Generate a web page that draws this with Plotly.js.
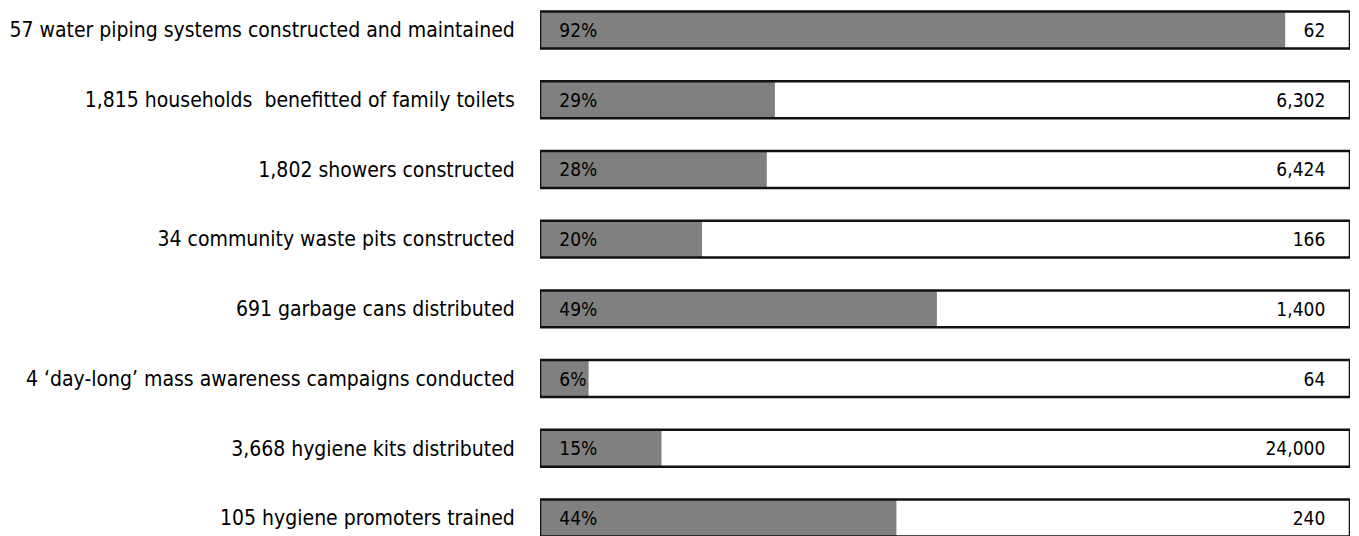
<!DOCTYPE html>
<html>
<head>
<meta charset="utf-8">
<script src="https://cdn.plot.ly/plotly-3.0.1.min.js"></script>
<style>html,body{margin:0;padding:0;background:#fff;}#chart{width:1359px;height:536px;}</style>
</head>
<body>
<div id="chart"></div>
<script>
var categories = [
  "57 water piping systems constructed and maintained",
  "1,815 households  benefitted of family toilets",
  "1,802 showers constructed",
  "34 community waste pits constructed",
  "691 garbage cans distributed",
  "4 \u2018day-long\u2019 mass awareness campaigns conducted",
  "3,668 hygiene kits distributed",
  "105 hygiene promoters trained"
];
var achievedPct = [92, 29, 28, 20, 49, 6, 15, 44];
var targets = [62, 6302, 6424, 166, 1400, 64, 24000, 240];

var FONT = "'DejaVu Sans Condensed', 'Liberation Sans Narrow', sans-serif";
var full = categories.map(function(){ return 100; });
var padL = "\u00a0\u00a0\u00a0";
var padR = "\u00a0\u00a0\u00a0\u00a0";

var traces = [
  {
    type: "bar", orientation: "h", y: categories, x: full,
    marker: {color: "#ffffff", line: {width: 0}},
    customdata: targets,
    texttemplate: "%{customdata:,}" + padR,
    textposition: "inside", insidetextanchor: "end", constraintext: "none",
    textfont: {family: FONT, size: 19, color: "#000"},
    width: 0.53, hoverinfo: "skip"
  },
  {
    type: "bar", orientation: "h", y: categories, x: achievedPct,
    marker: {color: "#808080", line: {width: 0}},
    width: 0.53, hoverinfo: "skip", textposition: "none"
  },
  {
    type: "bar", orientation: "h", y: categories, x: full,
    marker: {color: "rgba(0,0,0,0)", line: {width: 2.5, color: "#111"}},
    text: achievedPct.map(function(p){ return padL + p + "%"; }),
    textposition: "inside", insidetextanchor: "start", constraintext: "none",
    textfont: {family: FONT, size: 19, color: "#000"},
    width: 0.53, hoverinfo: "skip"
  }
];

var layout = {
  width: 1359, height: 536,
  margin: {l: 540, r: 9, t: 0, b: 0, pad: 0},
  paper_bgcolor: "#fff", plot_bgcolor: "#fff",
  barmode: "overlay", showlegend: false, hovermode: false,
  xaxis: {range: [0, 100], showgrid: false, zeroline: false, showticklabels: false, showline: false, fixedrange: true},
  yaxis: {
    type: "category", range: [7.258, -0.43], showgrid: false, zeroline: false, showline: false,
    ticks: "outside", ticklen: 20, tickcolor: "rgba(0,0,0,0)",
    tickfont: {family: FONT, size: 21, color: "#000"}, fixedrange: true
  },
  font: {family: FONT}
};

Plotly.newPlot("chart", traces, layout, {displayModeBar: false, staticPlot: true});
</script>
</body>
</html>
